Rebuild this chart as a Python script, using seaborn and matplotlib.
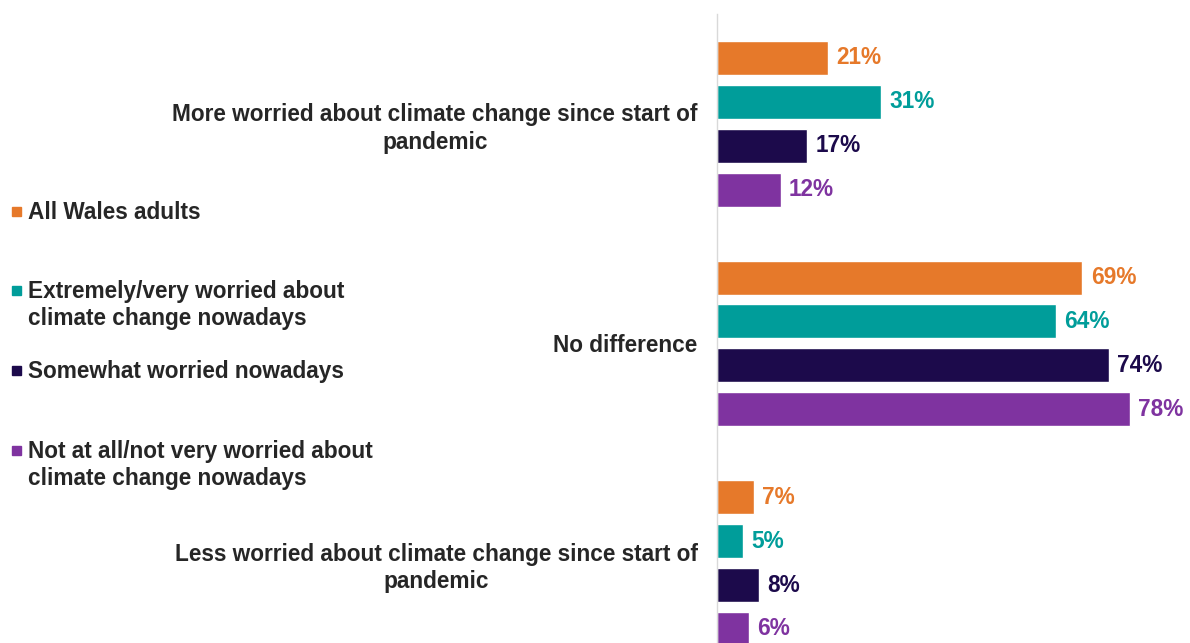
import matplotlib
matplotlib.use("Agg")
import matplotlib.pyplot as plt
from matplotlib.patches import Rectangle
import seaborn as sns
import pandas as pd

# Survey responses: change in worry about climate change since the pandemic began
categories = [
    "More worried about climate change since start of\npandemic",
    "No difference",
    "Less worried about climate change since start of\npandemic",
]
groups = [
    "All Wales adults",
    "Extremely/very worried about\nclimate change nowadays",
    "Somewhat worried nowadays",
    "Not at all/not very worried about\nclimate change nowadays",
]
all_wales = [21, 69, 7]
very_worried = [31, 64, 5]
somewhat_worried = [17, 74, 8]
not_worried = [12, 78, 6]

colors = ["#E6792A", "#009D9A", "#1C0A4B", "#7F33A0"]
text_color = "#262626"

rows = []
for g, vals in zip(groups, [all_wales, very_worried, somewhat_worried, not_worried]):
    for c, v in zip(categories, vals):
        rows.append({"category": c, "group": g, "value": v})
df = pd.DataFrame(rows)

sns.set_theme(style="white")
plt.rcParams["font.family"] = ["Liberation Sans", "DejaVu Sans"]
plt.rcParams["font.weight"] = "bold"

W, H = 1190, 643
fig = plt.figure(figsize=(W / 100, H / 100), dpi=100)
left_px, top_px = 717, 14
ax = fig.add_axes([left_px / W, 0, (1183 - left_px) / W, (H - top_px) / H])

sns.barplot(
    data=df, y="category", x="value", hue="group", order=categories,
    hue_order=groups, palette=colors, orient="h", width=0.8, gap=0.225,
    saturation=1, legend=False, ax=ax,
)

ax.set_xlim(0, 88)
ax.set_ylim(2.364, -0.5)
ax.set_xlabel("")
ax.set_ylabel("")
ax.set_xticks([])
ax.tick_params(axis="y", length=0, pad=14)
for lbl in ax.get_yticklabels():
    lbl.set_fontsize(16.3)
    lbl.set_fontweight("bold")
    lbl.set_color(text_color)
    lbl.set_multialignment("center")
    lbl.set_linespacing(1.24)

for side in ["top", "right", "bottom"]:
    ax.spines[side].set_visible(False)
ax.spines["left"].set_color("#D9D9D9")
ax.spines["left"].set_linewidth(1.0)

for container, col in zip(ax.containers, colors):
    ax.bar_label(container, fmt="%d%%", padding=6, fontsize=16.3,
                 fontweight="bold", color=col)

# Legend drawn at the left side of the figure
legend_tops = [211, 290, 370, 450]
for g, col, y in zip(groups, colors, legend_tops):
    fig.patches.append(Rectangle((12 / W, 1 - (y + 5) / H), 9 / W, 9 / H,
                                 transform=fig.transFigure, color=col))
    fig.text(28 / W, 1 - (y - 10) / H, g, ha="left", va="top",
             fontsize=16.3, fontweight="bold", color=text_color, linespacing=1.24)

fig.savefig("out.png", dpi=100, facecolor="white")
